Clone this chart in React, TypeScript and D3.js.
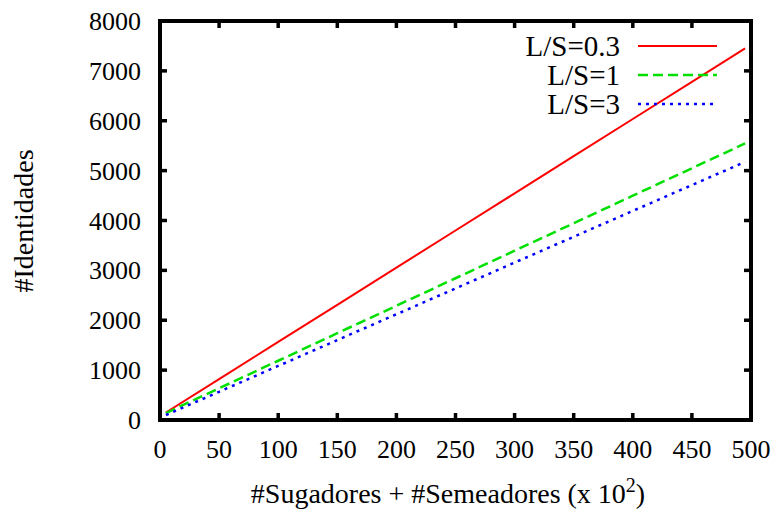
import React from "react";
import * as d3 from "d3";

const xValues = [5, 50, 100, 150, 200, 250, 300, 350, 400, 450, 495];
const seriesRed = [150, 820, 1565, 2310, 3055, 3800, 4545, 5290, 6035, 6780, 7450];
const seriesGreen = [140, 636, 1188, 1740, 2290, 2842, 3394, 3945, 4497, 5048, 5545];
const seriesBlue = [100, 566, 1084, 1602, 2120, 2638, 3156, 3674, 4192, 4710, 5176];
const seriesNames = ["L/S=0.3", "L/S=1", "L/S=3"];
const xTicks = [0, 50, 100, 150, 200, 250, 300, 350, 400, 450, 500];
const yTicks = [0, 1000, 2000, 3000, 4000, 5000, 6000, 7000, 8000];

const W = 781;
const H = 511;
const L = 160, R = 751, T = 21, B = 420;
const FONT = "'Liberation Serif', 'Times New Roman', serif";

export default function App() {
  const x = d3.scaleLinear().domain([0, 500]).range([L, R]);
  const y = d3.scaleLinear().domain([0, 8000]).range([B, T]);
  const line = d3
    .line<[number, number]>()
    .x((d) => x(d[0]))
    .y((d) => y(d[1]));

  const series = [
    { name: seriesNames[0], vals: seriesRed, color: "#ff0000", dash: "none", width: 2 },
    { name: seriesNames[1], vals: seriesGreen, color: "#00e000", dash: "10,5", width: 2.5 },
    { name: seriesNames[2], vals: seriesBlue, color: "#0000ff", dash: "3,5", width: 2.5 },
  ];
  const tickLen = 7;
  const legendY = [46, 75, 104];

  return (
    <svg
      width={W}
      height={H}
      style={{ position: "absolute", left: 0, top: 0, background: "#fff" }}
      fontFamily={FONT}
    >
      <rect x={0} y={0} width={W} height={H} fill="#fff" />
      {/* ticks */}
      {xTicks.map((t) => (
        <g key={"xt" + t}>
          <line x1={x(t)} x2={x(t)} y1={B} y2={B - tickLen} stroke="#000" strokeWidth={3.5} />
          <line x1={x(t)} x2={x(t)} y1={T} y2={T + tickLen} stroke="#000" strokeWidth={3.5} />
          <text x={x(t)} y={458} fontSize={26} textAnchor="middle" fill="#000">
            {t}
          </text>
        </g>
      ))}
      {yTicks.map((t) => (
        <g key={"yt" + t}>
          <line x1={L} x2={L + tickLen} y1={y(t)} y2={y(t)} stroke="#000" strokeWidth={3.5} />
          <line x1={R} x2={R - tickLen} y1={y(t)} y2={y(t)} stroke="#000" strokeWidth={3.5} />
          <text x={141} y={y(t)} dy="0.35em" fontSize={26} textAnchor="end" fill="#000">
            {t}
          </text>
        </g>
      ))}
      {/* series */}
      {series.map((s) => (
        <path
          key={s.name}
          d={line(xValues.map((xv, i) => [xv, s.vals[i]]) as [number, number][]) || ""}
          fill="none"
          stroke={s.color}
          strokeWidth={s.width}
          strokeDasharray={s.dash}
        />
      ))}
      {/* legend */}
      {series.map((s, i) => (
        <g key={"lg" + s.name}>
          <text x={620} y={legendY[i]} dy="0.35em" fontSize={29} textAnchor="end" fill="#000">
            {s.name}
          </text>
          <line
            x1={638}
            x2={717}
            y1={legendY[i]}
            y2={legendY[i]}
            stroke={s.color}
            strokeWidth={s.width}
            strokeDasharray={s.dash}
          />
        </g>
      ))}
      {/* frame */}
      <rect x={L} y={T} width={R - L} height={B - T} fill="none" stroke="#000" strokeWidth={4} />
      {/* axis titles */}
      <text x={448} y={503} fontSize={28} textAnchor="middle" fill="#000">
        #Sugadores + #Semeadores (x 10
        <tspan dy={-11} fontSize={20}>2</tspan>
        <tspan dy={11}>)</tspan>
      </text>
      <text
        transform={`translate(33,221) rotate(-90)`}
        fontSize={28}
        textAnchor="middle"
        fill="#000"
      >
        #Identidades
      </text>
    </svg>
  );
}
